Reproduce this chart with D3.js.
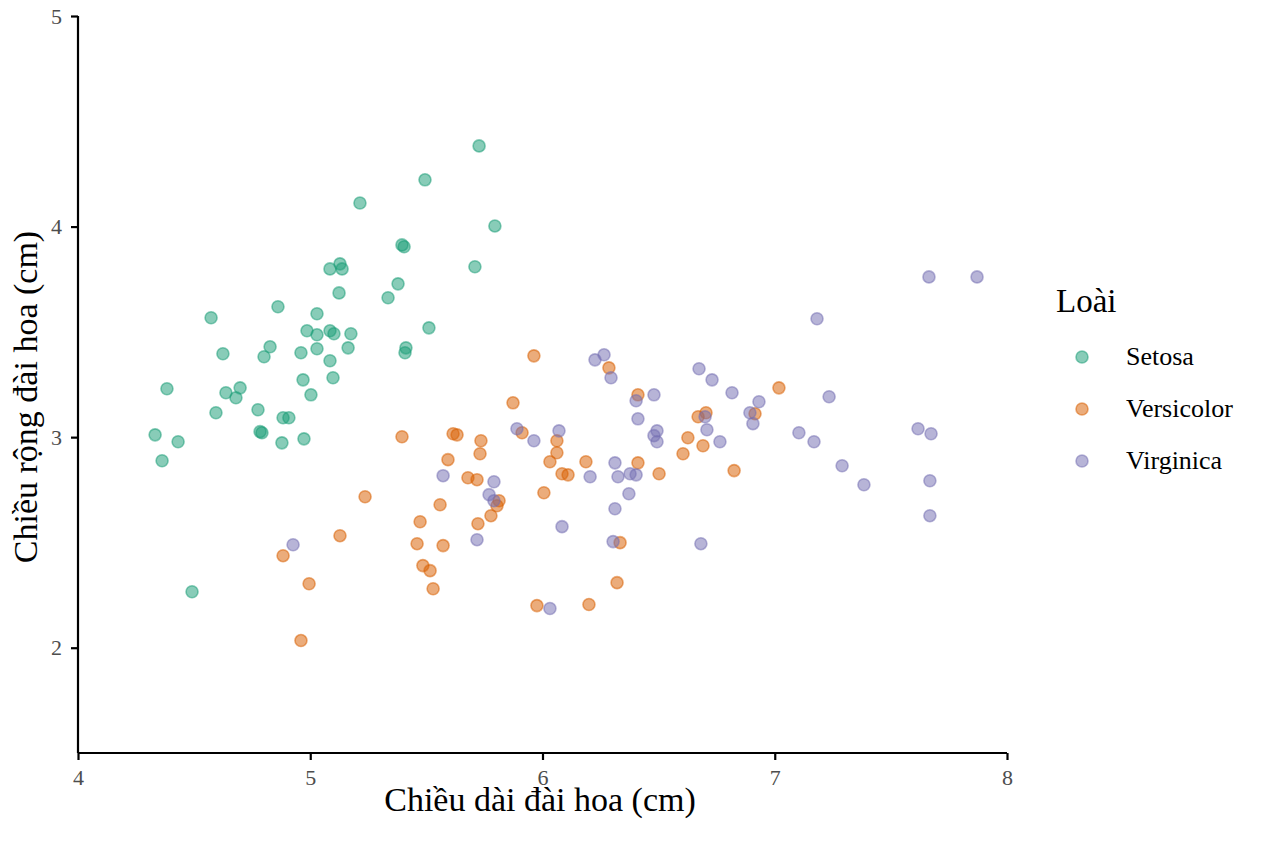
<!DOCTYPE html>
<html>
<head>
<meta charset="utf-8">
<script src="https://cdn.jsdelivr.net/npm/d3@7"></script>
<style>
  body { margin: 0; background: #fff; }
  svg { display: block; font-family: "Liberation Serif", "Times New Roman", serif; }
</style>
</head>
<body>
<svg id="svg" width="1264" height="848"></svg>
<script>
// chiều dài / chiều rộng đài hoa (đã có jitter)
var setosaLen = [4.332,4.362,4.383,4.431,4.491,4.573,4.594,4.624,4.637,4.680,4.698,4.775,4.784,4.792,4.801,4.827,4.861,4.878,4.883,4.908,
  4.960,4.969,4.973,4.986,5.003,5.029,5.029,5.029,5.085,5.085,5.085,5.098,5.102,5.124,5.128,5.137,5.163,5.175,5.214,5.335,
  5.378,5.395,5.404,5.408,5.412,5.494,5.511,5.709,5.727,5.795];
var setosaWid = [3.011,2.888,3.230,2.978,2.266,3.567,3.116,3.396,3.211,3.187,3.234,3.130,3.026,3.021,3.382,3.429,3.619,2.973,3.092,3.092,
  3.401,3.272,2.992,3.505,3.201,3.486,3.586,3.420,3.799,3.505,3.363,3.282,3.491,3.685,3.823,3.799,3.424,3.491,4.112,3.662,
  3.728,3.913,3.904,3.401,3.424,4.222,3.519,3.809,4.383,4.003];

var versiLen = [4.960,4.883,4.995,5.128,5.236,5.395,5.460,5.473,5.485,5.516,5.529,5.559,5.572,5.593,5.615,5.632,5.679,5.718,5.722,5.731,
  5.735,5.778,5.804,5.813,5.873,5.912,5.963,5.976,6.006,6.032,6.062,6.062,6.084,6.110,6.187,6.200,6.286,6.321,6.334,6.411,
  6.411,6.502,6.605,6.626,6.670,6.691,6.704,6.825,6.915,7.018];
var versiWid = [2.034,2.437,2.304,2.532,2.717,3.002,2.494,2.598,2.390,2.366,2.280,2.679,2.485,2.893,3.016,3.011,2.807,2.798,2.589,2.921,
  2.983,2.627,2.674,2.698,3.163,3.021,3.386,2.200,2.736,2.883,2.983,2.926,2.826,2.821,2.883,2.205,3.329,2.309,2.499,3.201,
  2.878,2.826,2.921,2.997,3.097,2.959,3.116,2.841,3.111,3.234];

var virgLen = [4.926,5.572,5.718,5.770,5.791,5.791,5.890,5.963,6.032,6.071,6.084,6.205,6.226,6.265,6.295,6.304,6.312,6.312,6.325,6.372,
  6.377,6.403,6.403,6.411,6.480,6.480,6.493,6.493,6.674,6.682,6.700,6.708,6.730,6.764,6.816,6.893,6.906,6.932,7.104,7.169,
  7.182,7.234,7.290,7.384,7.617,7.664,7.668,7.668,7.673,7.871];
var virgWid = [2.489,2.817,2.513,2.727,2.788,2.698,3.040,2.983,2.186,3.030,2.575,2.812,3.367,3.391,3.282,2.504,2.878,2.660,2.812,2.731,
  2.826,3.173,2.821,3.087,3.201,3.007,3.030,2.978,3.325,2.494,3.097,3.035,3.272,2.978,3.211,3.116,3.064,3.168,3.021,2.978,
  3.562,3.192,2.864,2.774,3.040,3.761,2.793,2.627,3.016,3.761];

var species = ["Setosa", "Versicolor", "Virginica"];
var colors = ["#1B9E77", "#D95F02", "#7570B3"];
var xTicks = [4, 5, 6, 7, 8];
var yTicks = [2, 3, 4, 5];

window.onload = function() {
  var svg = d3.select("svg");
  var left = 78, right = 1007, top = 16, bottom = 753;

  var x = d3.scaleLinear().domain([4, 8]).range([left, right]);
  var y = d3.scaleLinear().domain([1.5, 5]).range([bottom, top]);
  var color = d3.scaleOrdinal().domain(species).range(colors);

  var groups = [[setosaLen, setosaWid], [versiLen, versiWid], [virgLen, virgWid]];
  var data = [];
  groups.forEach(function(g, k) {
    g[0].forEach(function(v, i) {
      data.push({ sp: species[k], len: v, wid: g[1][i] });
    });
  });

  svg.append("g").selectAll("circle")
    .data(data)
    .enter().append("circle")
    .attr("cx", function(d) { return x(d.len); })
    .attr("cy", function(d) { return y(d.wid); })
    .attr("r", 6)
    .attr("fill", function(d) { return color(d.sp); })
    .attr("fill-opacity", 0.52)
    .attr("stroke", function(d) { return color(d.sp); })
    .attr("stroke-opacity", 0.52)
    .attr("stroke-width", 1.6);

  var xAxis = svg.append("g")
    .attr("transform", "translate(0," + bottom + ")")
    .call(d3.axisBottom(x).tickValues(xTicks).tickSize(7).tickPadding(9).tickFormat(d3.format("d")));
  var yAxis = svg.append("g")
    .attr("transform", "translate(" + left + ",0)")
    .call(d3.axisLeft(y).tickValues(yTicks).tickSize(7).tickPadding(9).tickFormat(d3.format("d")));

  [xAxis, yAxis].forEach(function(a) {
    a.attr("font-size", 22).attr("font-family", "Liberation Serif");
    a.select(".domain").attr("stroke", "#000").attr("stroke-width", 2.2);
    a.selectAll(".tick line").attr("stroke", "#000").attr("stroke-width", 2.2);
    a.selectAll(".tick text").attr("fill", "#4d4d4d");
  });
  xAxis.select(".domain").attr("d", "M" + left + ",0H" + right);
  yAxis.select(".domain").attr("d", "M0," + bottom + "V" + top);

  svg.append("text")
    .attr("x", 540).attr("y", 811)
    .attr("text-anchor", "middle")
    .style("font-size", "34px")
    .text("Chiều dài đài hoa (cm)");

  svg.append("text")
    .attr("transform", "translate(37,397) rotate(-90)")
    .attr("text-anchor", "middle")
    .style("font-size", "34px")
    .text("Chiều rộng đài hoa (cm)");

  // legend
  var legend = svg.append("g");
  legend.append("text")
    .attr("x", 1056).attr("y", 312)
    .style("font-size", "33px")
    .text("Loài");

  var items = legend.selectAll("g.item")
    .data(species)
    .enter().append("g")
    .attr("class", "item")
    .attr("transform", function(d, i) { return "translate(0," + (357 + i * 52) + ")"; });
  items.append("circle")
    .attr("cx", 1082).attr("cy", 0).attr("r", 6)
    .attr("fill", function(d) { return color(d); })
    .attr("fill-opacity", 0.52)
    .attr("stroke", function(d) { return color(d); })
    .attr("stroke-opacity", 0.52)
    .attr("stroke-width", 1.6);
  items.append("text")
    .attr("x", 1126).attr("y", 8)
    .style("font-size", "26px")
    .text(function(d) { return d; });
};
</script>
</body>
</html>
